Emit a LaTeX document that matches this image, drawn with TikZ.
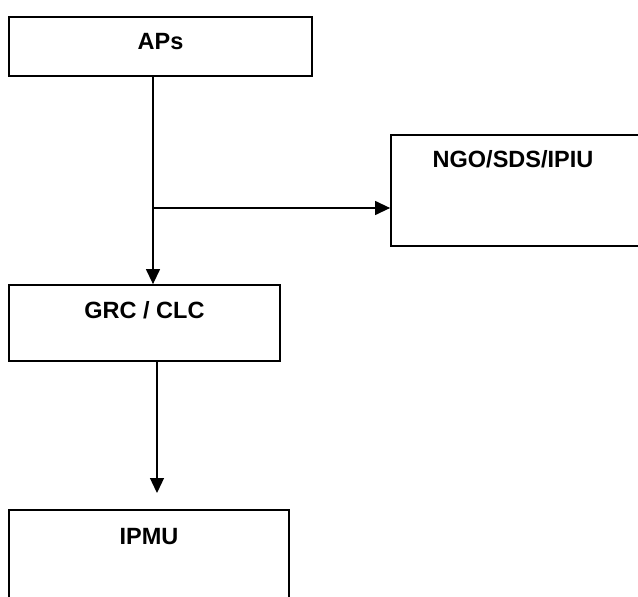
\documentclass[tikz,border=0pt]{standalone}
\usepackage{fontspec}
\setmainfont{Liberation Sans}
\usetikzlibrary{arrows.meta}
\begin{document}
\begin{tikzpicture}[x=1pt,y=-1pt,
  box/.style={draw=black, line width=1.8pt, fill=white, inner sep=0pt},
  lbl/.style={font=\fontsize{23.5}{28}\selectfont\bfseries, anchor=center, inner sep=0pt},
  conn/.style={draw=black, line width=1.3pt},
  arr/.style={conn, -{Triangle[length=15pt, width=14pt]}}]
\useasboundingbox (0,0) rectangle (638,597);
\fill[white] (0,0) rectangle (638,597);
% boxes
\node[box, minimum width=303pt, minimum height=59pt] (aps) at (160.5,46.5) {};
\node[box, minimum width=260pt, minimum height=111pt] (ngo) at (521,190.5) {};
\node[box, minimum width=271pt, minimum height=76pt] (grc) at (144.5,323) {};
\node[box, minimum width=280pt, minimum height=110pt] (ipmu) at (149,565) {};
% labels
\node[lbl] (apst) at (160.5,42) {APs};
\node[lbl] (ngot) at (513,159) {NGO/SDS/IPIU};
\node[lbl] (grct) at (144.5,310) {GRC / CLC};
\node[lbl] (ipmut) at (149,537) {IPMU};
% connectors
\coordinate (j) at (153,208);
\coordinate (tip) at (157,493);
\draw[arr] (aps.south -| j) -- (grc.north -| j);
\draw[arr] (j) -- (ngo.west |- j);
\draw[arr] (grc.south -| tip) -- (tip);
\end{tikzpicture}
\end{document}
